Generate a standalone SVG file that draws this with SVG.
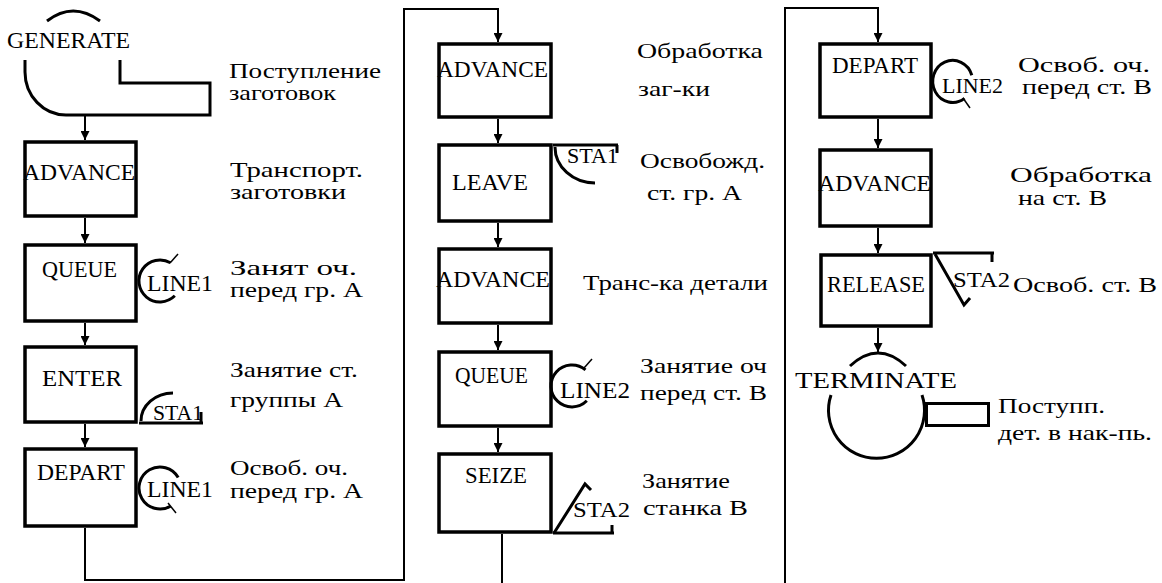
<svg xmlns="http://www.w3.org/2000/svg" width="1162" height="583" viewBox="0 0 1162 583">
<style>
.bx{fill:none;stroke:#000;stroke-width:3.5}
.th{fill:none;stroke:#000;stroke-width:3}
.tn{fill:none;stroke:#000;stroke-width:1.5}
.ar{fill:none;stroke:#000;stroke-width:2;marker-end:url(#ah)}
.cn{fill:none;stroke:#000;stroke-width:2}
.b{font-family:"Liberation Serif",serif;font-size:24px;fill:#000}
.s{font-family:"Liberation Serif",serif;font-size:22px;fill:#000}
.c{font-family:"Liberation Serif",serif;font-size:21px;fill:#000}
</style>
<defs>
<marker id="ah" viewBox="0 0 10 10" refX="10" refY="5" markerWidth="9" markerHeight="9" markerUnits="userSpaceOnUse" orient="auto"><path d="M0,0 L10,5 L0,10 z" fill="#000"/></marker>
</defs>
<rect width="1162" height="583" fill="#fff"/>

<g id="connectors">
<path class="ar" d="M85,115 V140"/>
<path class="ar" d="M85,218 V243"/>
<path class="ar" d="M85,323 V345"/>
<path class="ar" d="M85,424 V447"/>
<path class="cn" d="M85,528 V580 H404 V9 H498 V42" marker-end="url(#ah)"/>
<path class="ar" d="M498,119 V143"/>
<path class="ar" d="M498,223 V247"/>
<path class="ar" d="M498,325 V350"/>
<path class="ar" d="M498,428 V452"/>
<path class="cn" d="M502,534 V583"/>
<path class="cn" d="M785,583 V8 H878 V42" marker-end="url(#ah)"/>
<path class="ar" d="M878,119 V148"/>
<path class="ar" d="M878,228 V253"/>
<path class="ar" d="M878,328 V352"/>
</g>

<g id="generate">
<path class="th" d="M47,21 Q73,1 100,21"/>
<text class="b" x="7" y="48" textLength="123" lengthAdjust="spacingAndGlyphs">GENERATE</text>
<path class="th" d="M25,60 V72 A41,43 0 0 0 66,115 H210 V83 H120 V60"/>
<text class="c" x="229" y="78" textLength="152" lengthAdjust="spacingAndGlyphs">Поступление</text>
<text class="c" x="229" y="100" textLength="107" lengthAdjust="spacingAndGlyphs">заготовок</text>
</g>

<g id="advance1">
<rect class="bx" x="25" y="142" width="111" height="74"/>
<text class="b" x="23" y="180" textLength="112" lengthAdjust="spacingAndGlyphs">ADVANCE</text>
<text class="c" x="230" y="177" textLength="133" lengthAdjust="spacingAndGlyphs">Транспорт.</text>
<text class="c" x="230" y="199" textLength="116" lengthAdjust="spacingAndGlyphs">заготовки</text>
</g>

<g id="queue1">
<rect class="bx" x="25" y="245" width="111" height="76"/>
<text class="b" x="42" y="277" textLength="75" lengthAdjust="spacingAndGlyphs">QUEUE</text>
<path class="th" d="M170.5,262.8 A21,21 0 1 0 174.8,295.8"/>
<path class="tn" d="M170,263 L178,254"/>
<text class="b" x="147" y="291" textLength="66" lengthAdjust="spacingAndGlyphs">LINE1</text>
<text class="c" x="230" y="275" textLength="127" lengthAdjust="spacingAndGlyphs">Занят оч.</text>
<text class="c" x="230" y="297" textLength="133" lengthAdjust="spacingAndGlyphs">перед гр. А</text>
</g>

<g id="enter">
<rect class="bx" x="25" y="347" width="111" height="75"/>
<text class="b" x="42" y="386" textLength="80" lengthAdjust="spacingAndGlyphs">ENTER</text>
<path class="th" d="M139,423 H203 M201,423 V412"/>
<path class="th" d="M141,421 A32,28 0 0 1 173,393"/>
<text class="s" x="153" y="420" textLength="50" lengthAdjust="spacingAndGlyphs">STA1</text>
<text class="c" x="230" y="377" textLength="128" lengthAdjust="spacingAndGlyphs">Занятие ст.</text>
<text class="c" x="230" y="407" textLength="113" lengthAdjust="spacingAndGlyphs">группы А</text>
</g>

<g id="depart1">
<rect class="bx" x="25" y="449" width="111" height="77"/>
<text class="b" x="37" y="480" textLength="88" lengthAdjust="spacingAndGlyphs">DEPART</text>
<path class="th" d="M178.2,477.5 A21,21 0 1 0 170.5,506.2"/>
<path class="tn" d="M168,503 L176,513"/>
<text class="b" x="147" y="497" textLength="66" lengthAdjust="spacingAndGlyphs">LINE1</text>
<text class="c" x="230" y="475" textLength="118" lengthAdjust="spacingAndGlyphs">Освоб. оч.</text>
<text class="c" x="230" y="498" textLength="133" lengthAdjust="spacingAndGlyphs">перед гр. А</text>
</g>

<g id="advance2">
<rect class="bx" x="439" y="44" width="112" height="73"/>
<text class="b" x="437" y="77" textLength="111" lengthAdjust="spacingAndGlyphs">ADVANCE</text>
<text class="c" x="637" y="58" textLength="126" lengthAdjust="spacingAndGlyphs">Обработка</text>
<text class="c" x="638" y="96" textLength="72" lengthAdjust="spacingAndGlyphs">заг-ки</text>
</g>

<g id="leave">
<rect class="bx" x="439" y="145" width="112" height="76"/>
<text class="b" x="452" y="190" textLength="76" lengthAdjust="spacingAndGlyphs">LEAVE</text>
<path class="th" d="M553,145 H618 M617,145 V153"/>
<path class="th" d="M555,147 A40,36 0 0 0 595,183"/>
<text class="s" x="567" y="163" textLength="51" lengthAdjust="spacingAndGlyphs">STA1</text>
<text class="c" x="640" y="168" textLength="125" lengthAdjust="spacingAndGlyphs">Освобожд.</text>
<text class="c" x="647" y="200" textLength="95" lengthAdjust="spacingAndGlyphs">ст. гр. А</text>
</g>

<g id="advance3">
<rect class="bx" x="439" y="249" width="112" height="74"/>
<text class="b" x="436" y="287" textLength="114" lengthAdjust="spacingAndGlyphs">ADVANCE</text>
<text class="c" x="583" y="290" textLength="185" lengthAdjust="spacingAndGlyphs">Транс-ка детали</text>
</g>

<g id="queue2">
<rect class="bx" x="439" y="352" width="112" height="74"/>
<text class="b" x="455" y="383" textLength="73" lengthAdjust="spacingAndGlyphs">QUEUE</text>
<path class="th" d="M585.5,369.9 A21,21 0 1 0 586.8,400.8"/>
<path class="tn" d="M584,368 L592,359"/>
<text class="b" x="560" y="398" textLength="70" lengthAdjust="spacingAndGlyphs">LINE2</text>
<text class="c" x="640" y="373" textLength="127" lengthAdjust="spacingAndGlyphs">Занятие оч</text>
<text class="c" x="640" y="400" textLength="127" lengthAdjust="spacingAndGlyphs">перед ст. В</text>
</g>

<g id="seize">
<rect class="bx" x="439" y="454" width="112" height="78"/>
<text class="b" x="465" y="483" textLength="62" lengthAdjust="spacingAndGlyphs" font-size="20">SEIZE</text>
<path class="th" d="M553,533 H614 M612,533 V525"/>
<path class="th" d="M554,533 L585,484 L591,490"/>
<text class="s" x="573" y="517" textLength="57" lengthAdjust="spacingAndGlyphs">STA2</text>
<text class="c" x="642" y="488" textLength="88" lengthAdjust="spacingAndGlyphs">Занятие</text>
<text class="c" x="643" y="515" textLength="105" lengthAdjust="spacingAndGlyphs">станка В</text>
</g>

<g id="depart2">
<rect class="bx" x="820" y="44" width="111" height="73"/>
<text class="b" x="832" y="73" textLength="86" lengthAdjust="spacingAndGlyphs">DEPART</text>
<path class="th" d="M971.8,75.2 A20,21 0 1 0 964.5,98.4"/>
<path class="tn" d="M963,98 L970,108"/>
<text class="s" x="942" y="93" textLength="61" lengthAdjust="spacingAndGlyphs">LINE2</text>
<text class="c" x="1018" y="72" textLength="132" lengthAdjust="spacingAndGlyphs" font-size="19">Освоб. оч.</text>
<text class="c" x="1022" y="94" textLength="130" lengthAdjust="spacingAndGlyphs" font-size="19">перед ст. В</text>
</g>

<g id="advance4">
<rect class="bx" x="820" y="150" width="111" height="76"/>
<text class="b" x="818" y="191" textLength="113" lengthAdjust="spacingAndGlyphs">ADVANCE</text>
<text class="c" x="1010" y="182" textLength="142" lengthAdjust="spacingAndGlyphs">Обработка</text>
<text class="c" x="1018" y="205" textLength="89" lengthAdjust="spacingAndGlyphs">на ст. В</text>
</g>

<g id="release">
<rect class="bx" x="821" y="255" width="110" height="71"/>
<text class="b" x="827" y="292" textLength="98" lengthAdjust="spacingAndGlyphs">RELEASE</text>
<path class="th" d="M933,253 H994 M992,253 V262"/>
<path class="th" d="M935,254 L964,305 L970,298"/>
<text class="s" x="953" y="287" textLength="57" lengthAdjust="spacingAndGlyphs">STA2</text>
<text class="c" x="1013" y="292" textLength="144" lengthAdjust="spacingAndGlyphs">Освоб. ст. В</text>
</g>

<g id="terminate">
<path class="th" d="M850,366 Q878,340 906,366"/>
<text class="b" x="795" y="388" textLength="162" lengthAdjust="spacingAndGlyphs">TERMINATE</text>
<path class="th" d="M831,395 A48,48 0 1 0 922,395"/>
<rect class="th" x="926.5" y="403.5" width="62" height="22"/>
<text class="c" x="998" y="413" textLength="107" lengthAdjust="spacingAndGlyphs">Поступп.</text>
<text class="c" x="998" y="440" textLength="154" lengthAdjust="spacingAndGlyphs">дет. в нак-пь.</text>
</g>
</svg>
